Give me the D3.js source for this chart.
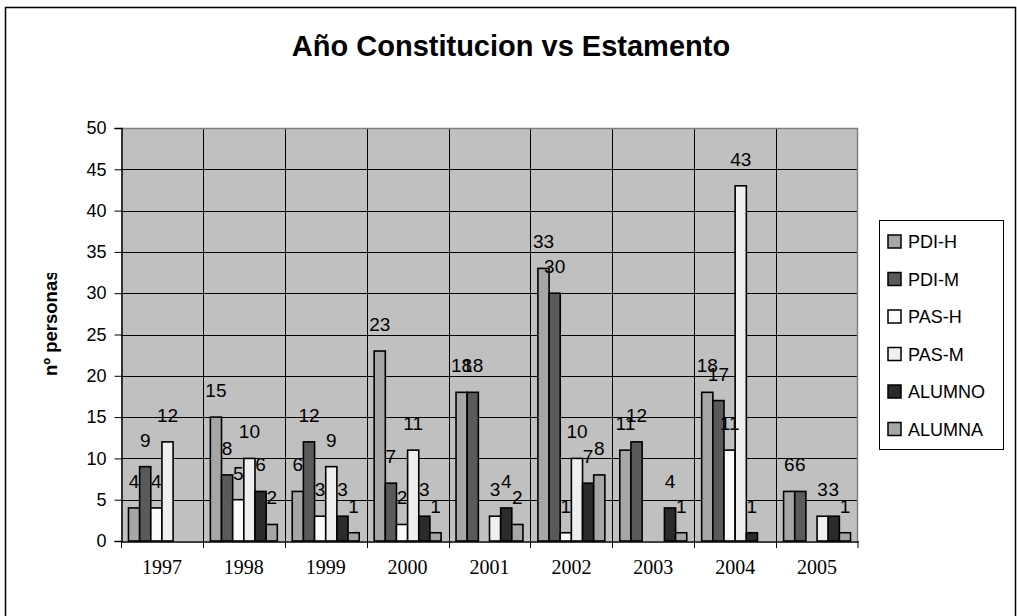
<!DOCTYPE html>
<html>
<head>
<meta charset="utf-8">
<script src="https://cdn.jsdelivr.net/npm/d3@7"></script>
<style>
  html, body { margin: 0; padding: 0; background: #fff; }
  svg { display: block; }
</style>
</head>
<body>
<svg id="chart" width="1017" height="616"></svg>
<script>
const years = ["1997","1998","1999","2000","2001","2002","2003","2004","2005"];
const seriesNames = ["PDI-H","PDI-M","PAS-H","PAS-M","ALUMNO","ALUMNA"];
const seriesColors = ["#A6A6A6","#5A5A5A","#FBFBFB","#EFEFEF","#2B2B2B","#A6A6A6"];
const pdiH   = [4, 15, 6, 23, 18, 33, 11, 18, 6];
const pdiM   = [9, 8, 12, 7, 18, 30, 12, 17, 6];
const pasH   = [4, 5, 3, 2, 0, 1, 0, 11, 0];
const pasM   = [12, 10, 9, 11, 3, 10, 0, 43, 3];
const alumno = [0, 6, 3, 3, 4, 7, 4, 1, 3];
const alumna = [0, 2, 1, 1, 2, 8, 1, 0, 1];
const yTicks = [0,5,10,15,20,25,30,35,40,45,50];

const seriesValues = [pdiH, pdiM, pasH, pasM, alumno, alumna];

const svg = d3.select("#chart");
const plot = {left: 121, top: 128, right: 858, bottom: 541};

// outer border
svg.append("rect").attr("x", 5.5).attr("y", 7.5).attr("width", 1010).attr("height", 620)
  .attr("fill", "#fff").attr("stroke", "#000").attr("stroke-width", 1.5);

// title
svg.append("text").attr("x", 511).attr("y", 56).attr("text-anchor", "middle")
  .attr("font-family", "Liberation Sans, Arial, sans-serif").attr("font-weight", "bold")
  .attr("font-size", 29).text("Año Constitucion vs Estamento");

const x = d3.scaleBand().domain(years).range([plot.left, plot.right]).paddingInner(0).paddingOuter(0);
const xs = d3.scaleBand().domain(seriesNames).range([0, x.bandwidth()]).paddingInner(0).paddingOuter(0.67);
const y = d3.scaleLinear().domain([0, 50]).range([plot.bottom, plot.top]);

// plot background
svg.append("rect").attr("x", plot.left).attr("y", plot.top)
  .attr("width", plot.right - plot.left).attr("height", plot.bottom - plot.top)
  .attr("fill", "#C0C0C0");

// horizontal gridlines
svg.append("g").selectAll("line").data(yTicks.filter(d => d > 0 && d < 50)).join("line")
  .attr("x1", plot.left).attr("x2", plot.right)
  .attr("y1", d => Math.round(y(d)) + 0.5).attr("y2", d => Math.round(y(d)) + 0.5)
  .attr("stroke", "#000").attr("stroke-width", 1);

// vertical gridlines at category boundaries
svg.append("g").selectAll("line").data(years.slice(1)).join("line")
  .attr("x1", d => Math.round(x(d)) + 0.5).attr("x2", d => Math.round(x(d)) + 0.5)
  .attr("y1", plot.top).attr("y2", plot.bottom)
  .attr("stroke", "#000").attr("stroke-width", 1);

// plot border top/right gray
svg.append("path")
  .attr("d", `M${plot.left},${plot.top + 0.5}H${plot.right - 0.5}V${plot.bottom}`)
  .attr("fill", "none").attr("stroke", "#808080").attr("stroke-width", 1.5);

// bars
const barData = [];
years.forEach((yr, i) => {
  seriesNames.forEach((s, j) => {
    const v = seriesValues[j][i];
    if (v > 0) barData.push({yr, s, j, v});
  });
});

svg.append("g").selectAll("rect").data(barData).join("rect")
  .attr("x", d => x(d.yr) + xs(d.s))
  .attr("y", d => y(d.v))
  .attr("width", xs.bandwidth())
  .attr("height", d => y(0) - y(d.v))
  .attr("fill", d => seriesColors[d.j])
  .attr("stroke", "#000").attr("stroke-width", 1.6);

// bar labels
svg.append("g").selectAll("text").data(barData).join("text")
  .attr("x", d => x(d.yr) + xs(d.s) + xs.bandwidth() / 2)
  .attr("y", d => y(d.v) - 20)
  .attr("text-anchor", "middle")
  .attr("font-family", "Liberation Sans, Arial, sans-serif")
  .attr("font-size", 19).attr("fill", "#000")
  .text(d => d.v);

// y axis
const yAxis = d3.axisLeft(y).tickValues(yTicks).tickSize(7).tickPadding(8).tickFormat(d3.format("d"));
const gy = svg.append("g").attr("transform", `translate(${plot.left + 0.5},0)`).call(yAxis);
gy.select(".domain").attr("stroke", "#000").attr("stroke-width", 1.5);
gy.selectAll(".tick line").attr("stroke", "#000");
gy.selectAll(".tick text").attr("font-family", "Liberation Sans, Arial, sans-serif")
  .attr("font-size", 18).attr("fill", "#000");

// x axis
const xAxis = d3.axisBottom(x).tickSize(0).tickPadding(14);
const gx = svg.append("g").attr("transform", `translate(0,${plot.bottom + 0.5})`).call(xAxis);
gx.select(".domain").attr("stroke", "#000").attr("stroke-width", 1.5);
gx.selectAll(".tick text").attr("font-family", "Liberation Serif, Times New Roman, serif")
  .attr("font-size", 20).attr("fill", "#000").attr("dy", "0.9em");
// category boundary ticks
svg.append("g").selectAll("line").data(years.concat(["end"])).join("line")
  .attr("x1", d => d === "end" ? plot.right : Math.round(x(d)) + 0.5)
  .attr("x2", d => d === "end" ? plot.right : Math.round(x(d)) + 0.5)
  .attr("y1", plot.bottom).attr("y2", plot.bottom + 7)
  .attr("stroke", "#000").attr("stroke-width", 1);

// y axis title (clipped as in original)
svg.append("clipPath").attr("id", "ytclip").append("rect")
  .attr("x", 30).attr("y", 273).attr("width", 40).attr("height", 200);
svg.append("g").attr("clip-path", "url(#ytclip)")
  .append("text")
  .attr("transform", "translate(57,376) rotate(-90)")
  .attr("text-anchor", "start")
  .attr("font-family", "Liberation Sans, Arial, sans-serif").attr("font-weight", "bold")
  .attr("font-size", 18.5).attr("fill", "#000")
  .text("nº personas");

// legend
const legend = svg.append("g");
legend.append("rect").attr("x", 879.5).attr("y", 220.5).attr("width", 124).attr("height", 229)
  .attr("fill", "#fff").attr("stroke", "#000").attr("stroke-width", 1);
const lg = legend.selectAll("g").data(seriesNames).join("g")
  .attr("transform", (d, i) => `translate(888,${241 + i * 37.5})`);
lg.append("rect").attr("x", 0).attr("y", -6).attr("width", 13).attr("height", 13)
  .attr("fill", (d, i) => seriesColors[i]).attr("stroke", "#000").attr("stroke-width", 1.5);
lg.append("text").attr("x", 20).attr("y", 7)
  .attr("font-family", "Liberation Sans, Arial, sans-serif")
  .attr("font-size", 18).attr("fill", "#000")
  .text(d => d);
</script>
</body>
</html>
